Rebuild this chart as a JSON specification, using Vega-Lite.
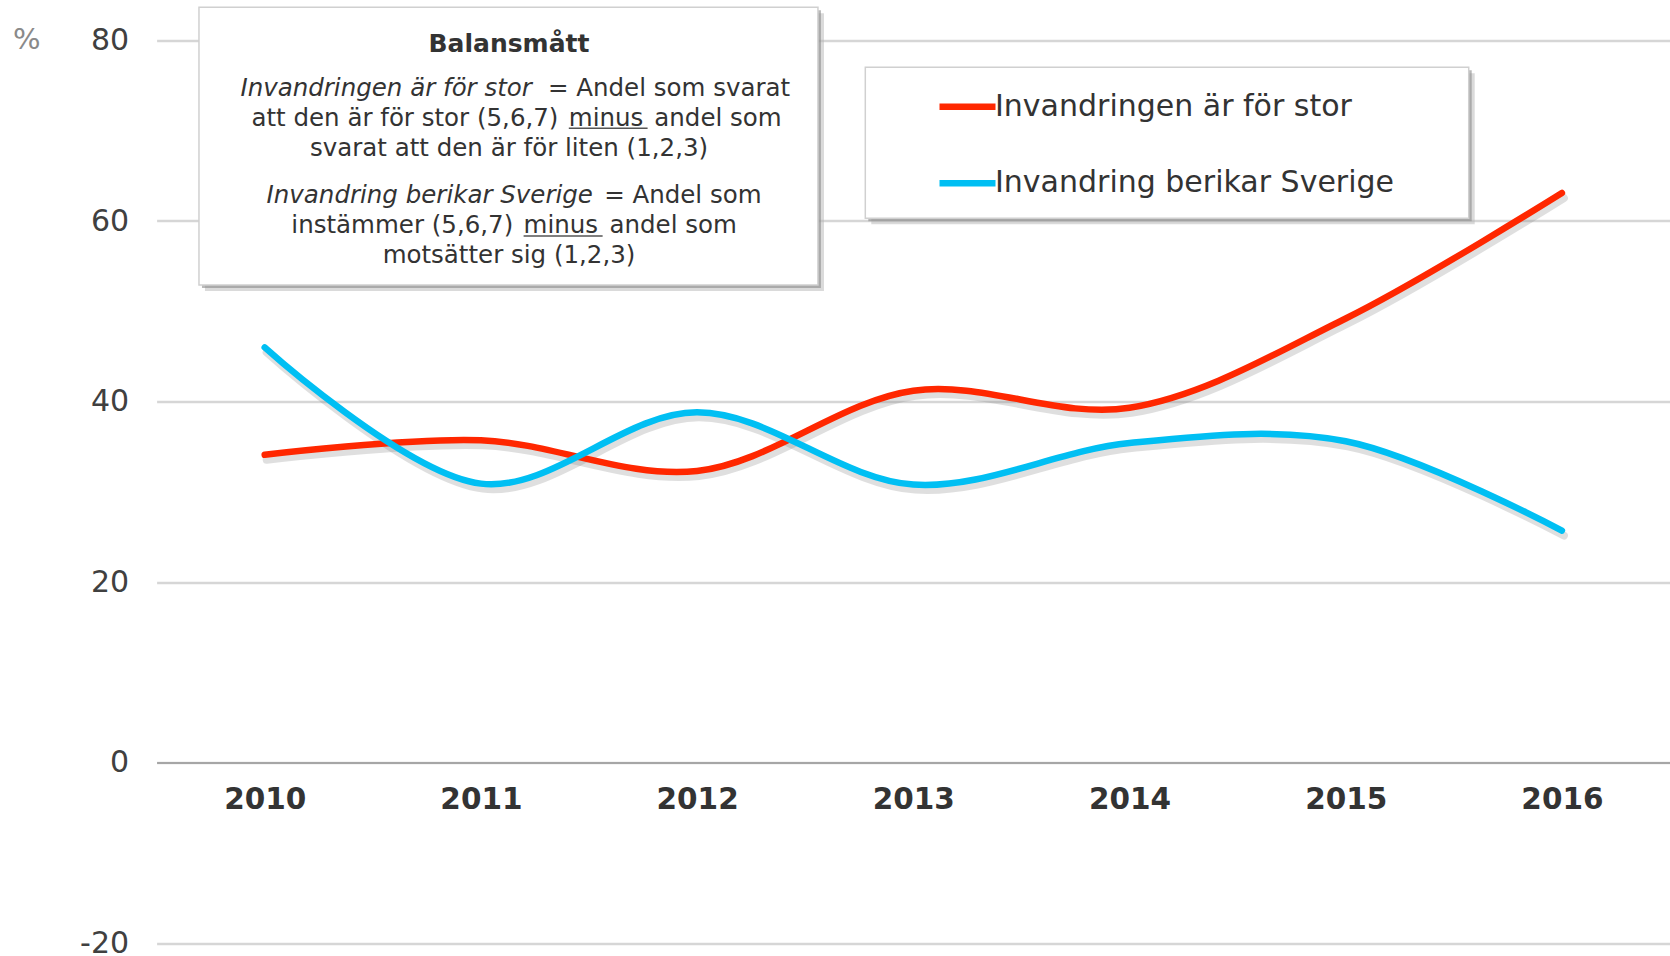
{
  "$schema": "https://vega.github.io/schema/vega-lite/v6.json",
  "width": 1513.4,
  "height": 902.5,
  "autosize": {"type": "none"},
  "padding": {"left": 156.6, "top": 40.5, "right": 0, "bottom": 13},
  "background": "white",
  "config": {"view": {"stroke": null}, "font": "DejaVu Sans"},
  "datasets": {
    "series": [
      {"x": 2010, "y": 34.1, "series": "Invandringen är för stor"},
      {"x": 2011, "y": 35.7, "series": "Invandringen är för stor"},
      {"x": 2012, "y": 32.3, "series": "Invandringen är för stor"},
      {"x": 2013, "y": 41.2, "series": "Invandringen är för stor"},
      {"x": 2014, "y": 39.3, "series": "Invandringen är för stor"},
      {"x": 2015, "y": 49.2, "series": "Invandringen är för stor"},
      {"x": 2016, "y": 63.1, "series": "Invandringen är för stor"},
      {"x": 2010, "y": 46.0, "series": "Invandring berikar Sverige"},
      {"x": 2011, "y": 30.9, "series": "Invandring berikar Sverige"},
      {"x": 2012, "y": 38.8, "series": "Invandring berikar Sverige"},
      {"x": 2013, "y": 30.8, "series": "Invandring berikar Sverige"},
      {"x": 2014, "y": 35.4, "series": "Invandring berikar Sverige"},
      {"x": 2015, "y": 35.6, "series": "Invandring berikar Sverige"},
      {"x": 2016, "y": 25.7, "series": "Invandring berikar Sverige"}
    ],
    "boxes": [
      {"x": 2009.696, "x2": 2012.559, "y": 83.69, "y2": 52.9, "box": "note"},
      {"x": 2012.778, "x2": 2015.569, "y": 77.04, "y2": 60.31, "box": "legend"}
    ],
    "title": [
      {"x": 2011.13, "y": 78.77, "text": "Balansmått"}
    ],
    "centered": [
      {"x": 2011.13, "y": 67.2, "text": "svarat att den är för liten (1,2,3)"},
      {"x": 2011.13, "y": 55.4, "text": "motsätter sig (1,2,3)"}
    ],
    "rightparts": [
      {"x": 2011.3585, "y": 70.5, "text": "att den är för stor (5,6,7)"},
      {"x": 2011.1494, "y": 58.7, "text": "instämmer (5,6,7)"}
    ],
    "leftparts": [
      {"x": 2011.31, "y": 73.81, "text": "= Andel som svarat"},
      {"x": 2011.57, "y": 62.01, "text": "= Andel som"},
      {"x": 2011.4066, "y": 70.5, "text": "minus"},
      {"x": 2011.802, "y": 70.5, "text": "andel som"},
      {"x": 2011.1975, "y": 58.7, "text": "minus"},
      {"x": 2011.5948, "y": 58.7, "text": "andel som"}
    ],
    "italic": [
      {"x": 2011.236, "y": 73.81, "text": "Invandringen är för stor"},
      {"x": 2011.518, "y": 62.01, "text": "Invandring berikar Sverige"}
    ],
    "underlines": [
      {"x": 2011.4066, "x2": 2011.771, "y": 70.28},
      {"x": 2011.1975, "x2": 2011.563, "y": 58.35}
    ]
  },
  "encoding": {
    "x": {
      "field": "x",
      "type": "quantitative",
      "scale": {"domain": [2009.5, 2016.5], "nice": false, "zero": false},
      "axis": {
        "values": [2010, 2011, 2012, 2013, 2014, 2015, 2016],
        "format": "d",
        "grid": false,
        "ticks": false,
        "domain": true,
        "domainColor": "#a6a6a6",
        "domainWidth": 2,
        "offset": -180.5,
        "labelFontSize": 29.5,
        "labelFontWeight": "bold",
        "labelColor": "#333333",
        "labelPadding": 23,
        "labelFont": "DejaVu Sans",
        "labelFlush": false,
        "title": null
      }
    },
    "y": {
      "field": "y",
      "type": "quantitative",
      "scale": {"domain": [-20, 80], "nice": false, "zero": false},
      "axis": {
        "values": [-20, 0, 20, 40, 60, 80],
        "labelExpr": "datum.value < 0 ? '-' + abs(datum.value) : '' + datum.value",
        "grid": true,
        "gridColor": "#d6d6d6",
        "gridWidth": 2.5,
        "domain": false,
        "ticks": false,
        "labelFontSize": 30,
        "labelColor": "#404040",
        "labelPadding": 28,
        "labelFont": "DejaVu Sans",
        "title": "%",
        "titleAngle": 0,
        "titleX": -144,
        "titleY": 8,
        "titleAlign": "left",
        "titleBaseline": "alphabetic",
        "titleFontSize": 29,
        "titleFontWeight": "normal",
        "titleFont": "DejaVu Sans",
        "titleColor": "#8a8a8a"
      }
    }
  },
  "layer": [
    {
      "data": {"name": "series"},
      "mark": {"type": "line", "interpolate": "catmull-rom", "strokeWidth": 8, "xOffset": 2, "yOffset": 5, "color": "#808080", "opacity": 0.25, "strokeCap": "round"},
      "encoding": {"detail": {"field": "series"}}
    },
    {
      "data": {"name": "series"},
      "mark": {"type": "line", "interpolate": "catmull-rom", "strokeWidth": 6.5, "strokeCap": "round"},
      "encoding": {
        "color": {
          "field": "series",
          "type": "nominal",
          "scale": {"domain": ["Invandringen är för stor", "Invandring berikar Sverige"], "range": ["#ff2700", "#00bff3"]},
          "legend": {
            "orient": "none",
            "legendX": 779.4,
            "legendY": 34.7,
            "title": null,
            "symbolType": "stroke",
            "symbolStrokeWidth": 6.5,
            "symbolSize": 3136,
            "labelFontSize": 30,
            "labelFont": "DejaVu Sans",
            "labelColor": "#333333",
            "labelOffset": -4,
            "labelLimit": 0,
            "rowPadding": 29.6,
            "padding": 0
          }
        }
      }
    },
    {
      "data": {"name": "boxes"},
      "mark": {"type": "rect", "fill": "#b5b5b5", "opacity": 0.5, "xOffset": 6, "x2Offset": 6, "yOffset": 6, "y2Offset": 6},
      "encoding": {"x2": {"field": "x2"}, "y2": {"field": "y2"}}
    },
    {
      "data": {"name": "boxes"},
      "mark": {"type": "rect", "fill": "#8a8a8a", "opacity": 0.6, "xOffset": 3, "x2Offset": 3, "yOffset": 3, "y2Offset": 3},
      "encoding": {"x2": {"field": "x2"}, "y2": {"field": "y2"}}
    },
    {
      "data": {"name": "boxes"},
      "mark": {"type": "rect", "fill": "white", "stroke": "#d0d0d0", "strokeWidth": 1.5},
      "encoding": {"x2": {"field": "x2"}, "y2": {"field": "y2"}}
    },
    {
      "data": {"name": "title"},
      "mark": {"type": "text", "align": "center", "baseline": "alphabetic", "fontSize": 25, "fontWeight": "bold", "color": "#333333", "font": "DejaVu Sans"},
      "encoding": {"text": {"field": "text"}}
    },
    {
      "data": {"name": "centered"},
      "mark": {"type": "text", "align": "center", "baseline": "alphabetic", "fontSize": 24.5, "color": "#333333", "font": "DejaVu Sans"},
      "encoding": {"text": {"field": "text"}}
    },
    {
      "data": {"name": "rightparts"},
      "mark": {"type": "text", "align": "right", "baseline": "alphabetic", "fontSize": 24.5, "color": "#333333", "font": "DejaVu Sans"},
      "encoding": {"text": {"field": "text"}}
    },
    {
      "data": {"name": "leftparts"},
      "mark": {"type": "text", "align": "left", "baseline": "alphabetic", "fontSize": 24.5, "color": "#333333", "font": "DejaVu Sans"},
      "encoding": {"text": {"field": "text"}}
    },
    {
      "data": {"name": "italic"},
      "mark": {"type": "text", "align": "right", "baseline": "alphabetic", "fontSize": 24.5, "fontStyle": "italic", "color": "#333333", "font": "DejaVu Sans"},
      "encoding": {"text": {"field": "text"}}
    },
    {
      "data": {"name": "underlines"},
      "mark": {"type": "rule", "color": "#555555", "strokeWidth": 1.5},
      "encoding": {"x2": {"field": "x2"}}
    }
  ]
}
